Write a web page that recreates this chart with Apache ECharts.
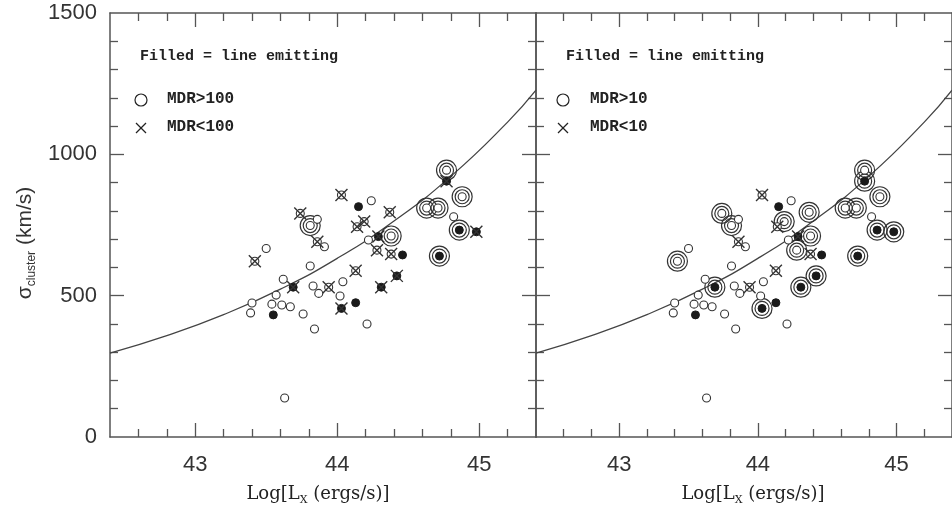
<!DOCTYPE html>
<html><head><meta charset="utf-8">
<script src="https://cdn.jsdelivr.net/npm/echarts@6/dist/echarts.min.js"></script>
<style>html,body{margin:0;padding:0;background:#fff}#c{width:952px;height:508px}</style>
</head><body><div id="c"></div>
<script>
// ---- data ----
const logLx = [43.40,43.39,43.42,44.03,44.15,44.24,43.74,44.37,43.81,43.86,44.14,44.19,43.86,43.91,43.50,44.29,44.38,44.28,44.22,44.38,44.46,43.81,44.13,43.62,43.69,43.83,43.94,43.87,44.02,44.04,44.31,44.42,43.54,43.61,43.67,43.57,43.55,43.76,44.03,44.13,43.84,44.21,44.77,44.77,44.88,44.63,44.71,44.82,44.86,44.98,44.72,43.63];
const sigma = [474,439,622,856,815,836,791,795,748,770,744,762,691,673,667,709,711,661,697,647,644,605,588,558,530,534,530,508,499,549,530,570,470,467,461,502,432,435,455,475,382,400,944,905,850,810,810,779,732,726,640,138];
const lineEmitting = [0,0,0,0,1,0,0,0,0,0,0,0,0,0,0,1,0,0,0,0,1,0,0,0,1,0,0,0,0,0,1,1,0,0,0,0,1,0,1,1,0,0,0,1,0,0,0,0,1,1,1,0];
// left panel: R = MDR>100, X = MDR<100
const markMDR100 = ['','','X','X','','','X','X','R','','X','X','X','','','X','R','X','','X','','','X','','X','','X','','','','X','X','','','','','','','X','','','','R','X','R','R','R','','R','X','R',''];
// right panel: R = MDR>10, X = MDR<10
const markMDR10 = ['','','R','X','','','R','R','R','','X','R','X','','','X','R','R','','X','','','X','','R','','X','','','','R','R','','','','','','','R','','','','R','R','R','R','R','','R','R','R',''];
// fitted curve
const curveX = [42.4,42.8,43.2,43.6,44.0,44.4,44.8,45.2,45.4];
const curveY = [297,359,433,523,632,764,922,1114,1227];
// ticks and labels
const xMajorTicks = [43,44,45];
const xMinorTicks = [42.6,42.8,43.2,43.4,43.6,43.8,44.2,44.4,44.6,44.8,45.2];
const yMajorTicks = [500,1000];
const yMinorTicks = [100,200,300,400,600,700,800,900,1100,1200,1300,1400];
const yLabels = [0,500,1000,1500];
const xRange = [42.4,45.4];
const yRange = [0,1500];

const ink = '#333';
const axisCol = '#555';
const grids = [
  {left:110, top:13, width:426, height:424},
  {left:536, top:13, width:426, height:424}
];
const xAxes = [], yAxes = [], series = [];
function xAx(g, pos, ticks, len, labels, line){
  return {type:'value', gridIndex:g, position:pos, min:xRange[0], max:xRange[1],
    axisLine:{show:line, onZero:false, lineStyle:{color:axisCol, width:1.5}},
    axisTick:{show:true, inside:true, length:len, customValues:ticks, lineStyle:{color:axisCol, width:1.3}},
    axisLabel:{show:!!labels, customValues:labels||[], margin:17, formatter:v=>String(v), fontFamily:'Liberation Sans', fontSize:22, color:ink},
    splitLine:{show:false}};
}
function yAx(g, pos, ticks, len, labels, line){
  return {type:'value', gridIndex:g, position:pos, min:yRange[0], max:yRange[1],
    axisLine:{show:line, onZero:false, lineStyle:{color:axisCol, width:1.5}},
    axisTick:{show:true, inside:true, length:len, customValues:ticks, lineStyle:{color:axisCol, width:1.3}},
    axisLabel:{show:!!labels, customValues:labels||[], margin:13, formatter:v=>String(v), fontFamily:'Liberation Sans', fontSize:22, color:ink},
    splitLine:{show:false}};
}
[0,1].forEach(g=>{
  xAxes.push(xAx(g,'bottom',xMajorTicks,14,xMajorTicks,true));
  xAxes.push(xAx(g,'bottom',xMinorTicks,8,null,false));
  xAxes.push(xAx(g,'top',xMajorTicks,14,null,true));
  xAxes.push(xAx(g,'top',xMinorTicks,8,null,false));
  yAxes.push(yAx(g,'left',yMajorTicks,14,g===0?yLabels:null,true));
  yAxes.push(yAx(g,'left',yMinorTicks,8,null,false));
  yAxes.push(yAx(g,'right',yMajorTicks,14,null,true));
  yAxes.push(yAx(g,'right',yMinorTicks,8,null,false));
  const marks = g===0 ? markMDR100 : markMDR10;
  const ax = {xAxisIndex:g*4, yAxisIndex:g*4, silent:true, animation:false};
  const pts = logLx.map((x,i)=>[x, sigma[i]]);
  series.push(Object.assign({type:'line', data:curveX.map((x,i)=>[x,curveY[i]]), smooth:true, showSymbol:false,
    lineStyle:{color:'#444', width:1.3}, z:1}, ax));
  const ringPts = pts.filter((p,i)=>marks[i]==='R');
  [20,14].forEach(s=>{
    series.push(Object.assign({type:'scatter', data:ringPts, symbol:'circle', symbolSize:s,
      itemStyle:{color:'rgba(0,0,0,0)', borderColor:ink, borderWidth:1.2, opacity:1}, z:2}, ax));
  });
  series.push(Object.assign({type:'scatter', data:pts.filter((p,i)=>!lineEmitting[i]), symbol:'circle', symbolSize:8,
    itemStyle:{color:'#fff', borderColor:ink, borderWidth:1.1, opacity:1}, z:3}, ax));
  series.push(Object.assign({type:'scatter', data:pts.filter((p,i)=>lineEmitting[i]), symbol:'circle', symbolSize:8,
    itemStyle:{color:'#1a1a1a', borderColor:'#1a1a1a', borderWidth:1, opacity:1}, z:3}, ax));
  series.push(Object.assign({type:'scatter', data:pts.filter((p,i)=>marks[i]==='X'), symbol:'path://M0,0L10,10M10,0L0,10', symbolSize:12,
    itemStyle:{color:'rgba(0,0,0,0)', borderColor:ink, borderWidth:1.4, opacity:1}, z:4}, ax));
});

function legendText(x,y,t,fs){
  return {type:'text', left:x, top:y-fs/2-1, silent:true,
    style:{text:t, fontFamily:'Liberation Mono', fontWeight:'bold', fontSize:fs, fill:'#222'}};
}
function legendCircle(x,y){ return {type:'circle', shape:{cx:x, cy:y, r:6}, silent:true, style:{fill:'none', stroke:'#222', lineWidth:1.2}}; }
function legendCross(x,y){ return {type:'polyline', shape:{points:[[x-5,y-5],[x+5,y+5]]}, silent:true, style:{stroke:'#222', lineWidth:1.2}}; }
function legendCross2(x,y){ return {type:'polyline', shape:{points:[[x+5,y-5],[x-5,y+5]]}, silent:true, style:{stroke:'#222', lineWidth:1.2}}; }

const graphic = [
  legendText(140,57,'Filled = line emitting',15),
  legendCircle(141,100), legendText(167,100,'MDR>100',16),
  legendCross(141,128), legendCross2(141,128), legendText(167,128,'MDR<100',16),
  legendText(566,57,'Filled = line emitting',15),
  legendCircle(563,100), legendText(590,100,'MDR>10',16),
  legendCross(563,128), legendCross2(563,128), legendText(590,128,'MDR<10',16),
  {type:'text', x:318, y:494, silent:true, style:{
    text:'{a|Log[L}{b|X}{a| (ergs/s)]}', align:'center', verticalAlign:'middle',
    rich:{a:{fontFamily:'DejaVu Serif', fontSize:18, fill:'#222', lineHeight:24, verticalAlign:'middle'},
          b:{fontFamily:'DejaVu Serif', fontSize:11, fill:'#222', lineHeight:24, verticalAlign:'bottom'}}}},
  {type:'text', x:753, y:494, silent:true, style:{
    text:'{a|Log[L}{b|X}{a| (ergs/s)]}', align:'center', verticalAlign:'middle',
    rich:{a:{fontFamily:'DejaVu Serif', fontSize:18, fill:'#222', lineHeight:24, verticalAlign:'middle'},
          b:{fontFamily:'DejaVu Serif', fontSize:11, fill:'#222', lineHeight:24, verticalAlign:'bottom'}}}},
  {type:'text', x:25, y:243, rotation:Math.PI/2, silent:true, style:{
    text:'{a|σ}{b|cluster}{a| (km/s)}', align:'center', verticalAlign:'middle',
    rich:{a:{fontFamily:'Liberation Sans', fontSize:21, fill:'#333', lineHeight:26, verticalAlign:'middle'},
          b:{fontFamily:'Liberation Sans', fontSize:12, fill:'#333', lineHeight:26, verticalAlign:'bottom'}}}}
];

const chart = echarts.init(document.getElementById('c'), null, {renderer:'canvas'});
chart.setOption({animation:false, backgroundColor:'#fff', grid:grids, xAxis:xAxes, yAxis:yAxes, series:series, graphic:graphic});
</script></body></html>
